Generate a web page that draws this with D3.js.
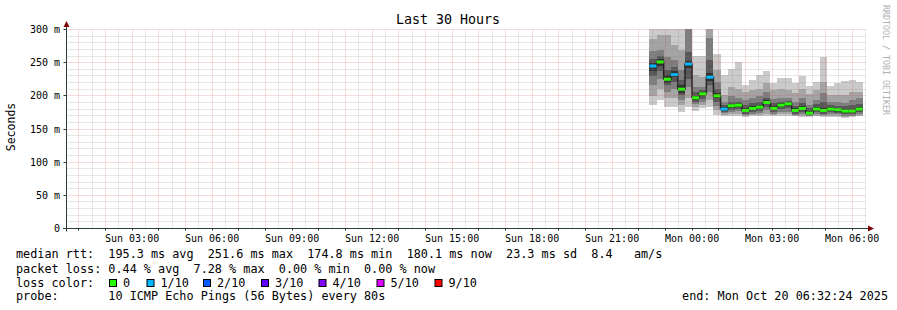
<!DOCTYPE html>
<html>
<head>
<meta charset="utf-8">
<script src="https://cdn.jsdelivr.net/npm/d3@7"></script>
<style>
  body { margin: 0; background: #fff; }
  text { font-family: "DejaVu Sans Mono", monospace; white-space: pre; }
</style>
</head>
<body>
<div id="chart"></div>
<script>
// time window of the graph
const start = new Date(2025, 9, 19, 0, 32, 24);
const end = new Date(2025, 9, 20, 6, 32, 24);
const firstBar = new Date(2025, 9, 19, 22, 24, 0);
const stepMinutes = 16;

// sorted pings per step (ms), p1 = fastest ... p10 = slowest
const p10 = [305, 305, 305, 305, 305, 320, 260, 260, 320, 263, 231, 241, 251, 216, 224, 231, 238, 220, 227, 227, 219, 230, 215, 221, 259, 215, 219, 223, 224, 221];
const p9  = [286, 292, 292, 277, 269, 312, 231, 229, 303, 239, 201, 214, 211, 206, 209, 211, 219, 209, 211, 209, 205, 211, 203, 209, 221, 201, 201, 201, 206, 206];
const p8  = [268, 269, 259, 254, 239, 302, 214, 214, 287, 221, 191, 199, 196, 194, 196, 200, 206, 195, 197, 196, 191, 196, 186, 194, 204, 191, 190, 189, 194, 196];
const p7  = [256, 260, 239, 244, 224, 266, 206, 209, 254, 211, 186, 191, 191, 186, 189, 191, 196, 189, 191, 192, 185, 189, 181, 187, 191, 186, 185, 184, 186, 188];
const p6  = [250, 255, 231, 237, 216, 253, 200, 206, 235, 204, 183, 188, 189, 181, 184, 186, 193, 184, 189, 191, 181, 184, 177, 183, 181, 183, 182, 180, 180, 183];
const p5  = [238, 245, 220, 228, 205, 242, 193, 200, 222, 196, 177, 182, 183, 175, 178, 180, 187, 178, 183, 185, 175, 178, 172, 177, 175, 177, 176, 174, 174, 177];
const p4  = [230, 238, 216, 221, 201, 226, 191, 195, 216, 191, 176, 179, 180, 173, 176, 177, 183, 176, 180, 181, 173, 176, 171, 175, 173, 175, 174, 172, 172, 175];
const p3  = [216, 226, 206, 211, 194, 214, 187, 191, 206, 185, 174, 176, 177, 171, 173, 174, 178, 173, 176, 176, 171, 173, 170, 172, 171, 172, 172, 170, 170, 172];
const p2  = [200, 211, 196, 196, 186, 196, 183, 186, 194, 179, 171, 173, 173, 170, 171, 171, 173, 171, 172, 172, 170, 170, 169, 170, 170, 170, 170, 168, 169, 170];
const p1  = [186, 194, 183, 183, 176, 183, 177, 181, 183, 171, 169, 169, 169, 168, 169, 169, 169, 169, 169, 169, 169, 168, 168, 169, 168, 168, 168, 166, 168, 169];
const median = [245, 251, 225, 232, 210, 248, 197, 203, 228, 200, 180, 185, 186, 178, 181, 183, 190, 181, 186, 188, 178, 181, 174, 180, 178, 180, 179, 177, 177, 180];
const lossTenths = [1, 0, 0, 1, 0, 1, 0, 0, 1, 0, 1, 0, 0, 0, 0, 0, 0, 0, 0, 0, 0, 0, 0, 0, 0, 0, 0, 0, 0, 0];

const yTicks = [0, 50, 100, 150, 200, 250, 300];
const lossLabels = ["0", "1/10", "2/10", "3/10", "4/10", "5/10", "9/10"];
const lossColors = ["#26ff00", "#00b8ff", "#0059ff", "#5e00ff", "#7e00ff", "#dd00ff", "#ff0000"];

const statsLine = "median rtt:  195.3 ms avg  251.6 ms max  174.8 ms min  180.1 ms now  23.3 ms sd  8.4   am/s";
const lossLine = "packet loss: 0.44 % avg  7.28 % max  0.00 % min  0.00 % now";
const probeLine = "probe:       10 ICMP Echo Pings (56 Bytes) every 80s";
const endLine = "end: Mon Oct 20 06:32:24 2025";

const W = 897, H = 310;
const plotLeft = 66.5, plotRight = 866.5, plotTop = 29.5, plotBottom = 228.5;

const svg = d3.select("#chart").append("svg")
    .attr("width", W).attr("height", H)
    .style("display", "block");

svg.append("rect").attr("width", W).attr("height", H).attr("fill", "#fff");

const x = d3.scaleTime().domain([start, end]).range([plotLeft, plotRight]);
const y = d3.scaleLinear().domain([0, 300]).range([plotBottom, plotTop]);

const snap = v => Math.round(v - 0.5) + 0.5;

svg.append("defs").append("clipPath").attr("id", "plot")
    .append("rect").attr("x", plotLeft).attr("y", plotTop - 0.5)
    .attr("width", plotRight - plotLeft).attr("height", plotBottom - plotTop);

// smoke bands
const barTime = i => new Date(firstBar.getTime() + i * stepMinutes * 60000);
const bands = [
    { lo: p1, hi: p10, color: "#cacaca" },
    { lo: p2, hi: p9, color: "#a4a4a4" },
    { lo: p3, hi: p8, color: "#7e7e7e" },
    { lo: p4, hi: p7, color: "#585858" },
    { lo: p5, hi: p6, color: "#323232" }
];

const plot = svg.append("g").attr("clip-path", "url(#plot)");
const idx = median.map((m, i) => i);

bands.forEach(b => {
    plot.append("g").selectAll("rect")
        .data(idx)
        .join("rect")
        .attr("x", i => x(barTime(i)))
        .attr("width", i => x(barTime(i + 1)) - x(barTime(i)))
        .attr("y", i => y(b.hi[i]))
        .attr("height", i => y(b.lo[i]) - y(b.hi[i]))
        .attr("fill", b.color)
        .attr("shape-rendering", "crispEdges");
});

// median step line
const steps = median.flatMap((m, i) => [[barTime(i), m], [barTime(i + 1), m]]);
plot.append("path")
    .datum(steps)
    .attr("fill", "none")
    .attr("stroke", "#202020")
    .attr("stroke-width", 1.5)
    .attr("d", d3.line().x(d => x(d[0])).y(d => y(d[1])));

plot.append("g").selectAll("rect")
    .data(idx)
    .join("rect")
    .attr("x", i => x(barTime(i)))
    .attr("width", i => x(barTime(i + 1)) - x(barTime(i)))
    .attr("y", i => y(median[i]) - 1.5)
    .attr("height", 3)
    .attr("fill", i => lossColors[lossTenths[i]]);

// grid (drawn over the data like rrdtool does)
const grid = svg.append("g");
const minorColor = "#8f8f8f", majorColor = "#de5050";
const minorY = d3.range(0, 301, 10).filter(v => v % 50 !== 0);
grid.selectAll(".hminor").data(minorY).join("line")
    .attr("x1", plotLeft).attr("x2", plotRight)
    .attr("y1", d => snap(y(d))).attr("y2", d => snap(y(d)))
    .attr("stroke", minorColor).attr("stroke-opacity", 0.4)
    .attr("stroke-dasharray", "1,1");

const minorX = d3.timeMinute.every(30).range(start, end).filter(d => d.getMinutes() !== 0);
grid.selectAll(".vminor").data(minorX).join("line")
    .attr("x1", d => snap(x(d))).attr("x2", d => snap(x(d)))
    .attr("y1", plotTop).attr("y2", plotBottom)
    .attr("stroke", minorColor).attr("stroke-opacity", 0.4)
    .attr("stroke-dasharray", "1,1");

grid.selectAll(".hmajor").data(yTicks.filter(v => v > 0)).join("line")
    .attr("x1", plotLeft).attr("x2", plotRight)
    .attr("y1", d => snap(y(d))).attr("y2", d => snap(y(d)))
    .attr("stroke", majorColor).attr("stroke-opacity", 0.4)
    .attr("stroke-dasharray", "1,1");

const hours = d3.timeHour.range(start, end);
grid.selectAll(".vmajor").data(hours).join("line")
    .attr("x1", d => snap(x(d))).attr("x2", d => snap(x(d)))
    .attr("y1", plotTop).attr("y2", plotBottom)
    .attr("stroke", majorColor).attr("stroke-opacity", 0.4)
    .attr("stroke-dasharray", "1,1");

// axes
const axisColor = "#2c3c38";
svg.append("line").attr("x1", 63).attr("x2", 870)
    .attr("y1", plotBottom).attr("y2", plotBottom).attr("stroke", axisColor);
svg.append("line").attr("x1", plotLeft).attr("x2", plotLeft)
    .attr("y1", plotBottom + 3).attr("y2", 24).attr("stroke", axisColor);

svg.selectAll(".ytick").data(yTicks).join("line")
    .attr("x1", plotLeft - 3).attr("x2", plotLeft)
    .attr("y1", d => snap(y(d))).attr("y2", d => snap(y(d)))
    .attr("stroke", axisColor);
svg.selectAll(".xtick").data(hours).join("line")
    .attr("x1", d => snap(x(d))).attr("x2", d => snap(x(d)))
    .attr("y1", plotBottom).attr("y2", plotBottom + 2)
    .attr("stroke", axisColor);

// arrows
svg.append("path").attr("d", `M${plotLeft - 3},27 L${plotLeft + 3},27 L${plotLeft},21 Z`).attr("fill", "#7f0000");
svg.append("path").attr("d", `M868,${plotBottom - 3} L868,${plotBottom + 3} L874,${plotBottom} Z`).attr("fill", "#7f0000");

// tick labels
svg.selectAll(".ylab").data(yTicks).join("text")
    .attr("x", 60).attr("y", d => y(d) + 3.5)
    .attr("text-anchor", "end")
    .attr("font-size", 10)
    .text(d => d === 0 ? "0" : d + " m");

const fmt = d3.timeFormat("%a %H:%M");
svg.selectAll(".xlab").data(d3.timeHour.every(3).range(start, end)).join("text")
    .attr("x", d => x(d)).attr("y", 242)
    .attr("text-anchor", "middle")
    .attr("font-size", 10)
    .text(d => fmt(d));

// titles
svg.append("text").attr("x", 448).attr("y", 24)
    .attr("text-anchor", "middle").attr("font-size", 13.3)
    .text("Last 30 Hours");

svg.append("text")
    .attr("transform", "translate(15,127) rotate(-90)")
    .attr("text-anchor", "middle").attr("font-size", 11.5)
    .text("Seconds");

svg.append("text")
    .attr("transform", "translate(883,5) rotate(90)")
    .attr("font-size", 8.3).attr("fill", "#b0b0b0")
    .text("RRDTOOL / TOBI OETIKER");

// legend
const fs = 11.8;
svg.append("text").attr("x", 16).attr("y", 258).attr("font-size", fs).text(statsLine);
svg.append("text").attr("x", 16).attr("y", 272.5).attr("font-size", fs).text(lossLine);
svg.append("text").attr("x", 16).attr("y", 286.5).attr("font-size", fs).text("loss color:");
svg.append("text").attr("x", 16).attr("y", 300).attr("font-size", fs).text(probeLine);
svg.append("text").attr("x", 888).attr("y", 300).attr("text-anchor", "end").attr("font-size", fs).text(endLine);

const boxX = [109, 146.5, 203, 261, 318.5, 376.5, 434.5];
const lg = svg.append("g").selectAll("g").data(lossLabels).join("g")
    .attr("transform", (d, i) => `translate(${boxX[i]},0)`);
lg.append("rect").attr("x", 0.5).attr("y", 279.5).attr("width", 7).attr("height", 7)
    .attr("fill", (d, i) => lossColors[i]).attr("stroke", "#000");
lg.append("text").attr("x", 14).attr("y", 286.5).attr("font-size", fs).text(d => d);
</script>
</body>
</html>
